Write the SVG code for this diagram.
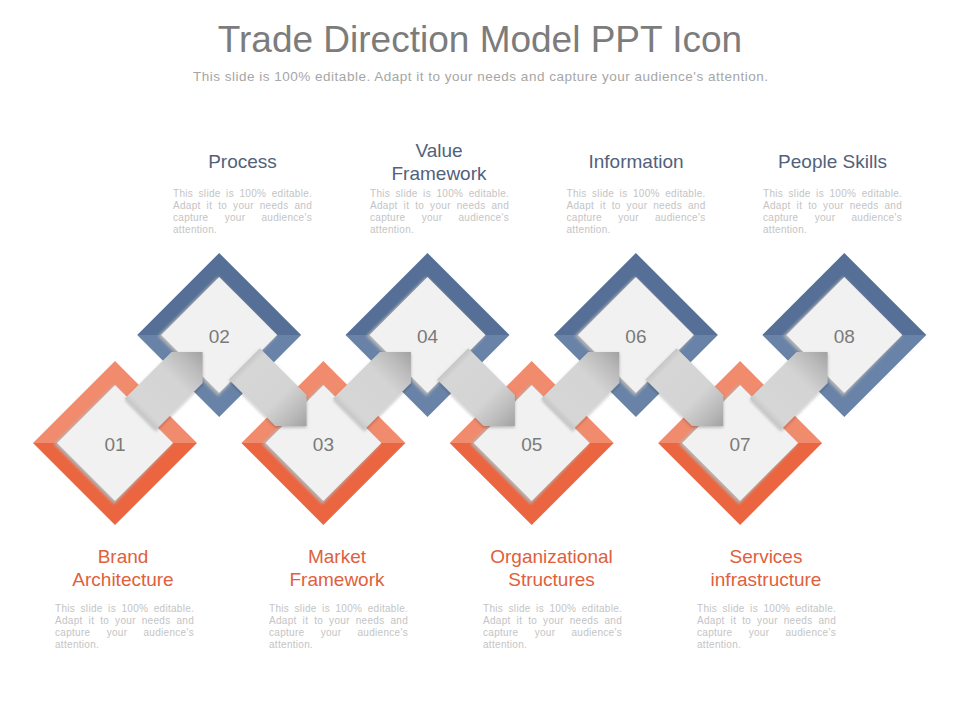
<svg xmlns="http://www.w3.org/2000/svg" xmlns:xlink="http://www.w3.org/1999/xlink" width="960" height="720" viewBox="0 0 960 720">
<defs>
<style>
.ot{fill:#F18B6D}.ob{fill:#EA6540}.bt{fill:#566F96}.bb{fill:#6983A8}
.in{fill:#F1F1F1}.sh{fill:#B5B5B5;filter:url(#blur)}
.num{font-family:"Liberation Sans",Arial,sans-serif;font-size:19px;fill:#7A7A7A;text-anchor:middle}
.title{font-family:"Liberation Sans",Arial,sans-serif;font-size:37px;fill:#7C7C7C;text-anchor:middle}
.sub{font-family:"Liberation Sans",Arial,sans-serif;font-size:13.5px;fill:#A6A6A6}
.lt{font-family:"Liberation Sans",Arial,sans-serif;font-size:19px;fill:#52617C;text-anchor:middle}
.lb{font-family:"Liberation Sans",Arial,sans-serif;font-size:19px;fill:#E0603C;text-anchor:middle}
.body{font-family:"Liberation Sans",Arial,sans-serif;font-size:10px;fill:#C4C4C4;letter-spacing:0.3px}
.l1{word-spacing:2.4px}.l2{word-spacing:2.9px}.l3{word-spacing:13.1px}
</style>
<filter id="blur" x="-20%" y="-20%" width="140%" height="140%"><feGaussianBlur stdDeviation="1.6"/></filter>
<filter id="ash" x="-20%" y="-20%" width="140%" height="140%"><feDropShadow dx="0" dy="1.5" stdDeviation="1.5" flood-color="#000" flood-opacity="0.25"/></filter>
<linearGradient id="ag" x1="0" y1="0" x2="1" y2="0">
<stop offset="0" stop-color="#C6C6C6"/>
<stop offset="0.08" stop-color="#D6D6D6"/>
<stop offset="0.55" stop-color="#D4D4D4"/>
<stop offset="0.8" stop-color="#BBBBBB"/>
<stop offset="1" stop-color="#A2A2A2"/>
</linearGradient>
<path id="arr" d="M-44,-22 L22,-22 L44,0 L22,22 L-44,22 Z" fill="url(#ag)"/>
<g id="inner">
<polygon class="sh" points="-61,1 -1,-58 57,1 -1,61"/>
<polygon class="in" points="-58,0 0,-58 58,0 0,58"/>
</g>
</defs>
<rect width="960" height="720" fill="#FFFFFF"/>
<text class="title" x="480" y="52">Trade Direction Model PPT Icon</text>
<text class="sub" x="193" y="81" textLength="575" lengthAdjust="spacing">This slide is 100% editable. Adapt it to your needs and capture your audience's attention.</text>

<g id="n01" transform="translate(115,443)">
<polygon class="ot" points="-82,0 0,-82 82,0"/><polygon class="ob" points="-82,0 0,82 82,0"/>
<use xlink:href="#inner"/><text class="num" y="8">01</text></g>
<g id="n02" transform="translate(219.2,335)">
<polygon class="bt" points="-82,0 0,-82 82,0"/><polygon class="bb" points="-82,0 0,82 82,0"/>
<use xlink:href="#inner"/><text class="num" y="8">02</text></g>
<g id="n03" transform="translate(323.4,443)">
<polygon class="ot" points="-82,0 0,-82 82,0"/><polygon class="ob" points="-82,0 0,82 82,0"/>
<use xlink:href="#inner"/><text class="num" y="8">03</text></g>
<g id="n04" transform="translate(427.5,335)">
<polygon class="bt" points="-82,0 0,-82 82,0"/><polygon class="bb" points="-82,0 0,82 82,0"/>
<use xlink:href="#inner"/><text class="num" y="8">04</text></g>
<g id="n05" transform="translate(531.7,443)">
<polygon class="ot" points="-82,0 0,-82 82,0"/><polygon class="ob" points="-82,0 0,82 82,0"/>
<use xlink:href="#inner"/><text class="num" y="8">05</text></g>
<g id="n06" transform="translate(635.9,335)">
<polygon class="bt" points="-82,0 0,-82 82,0"/><polygon class="bb" points="-82,0 0,82 82,0"/>
<use xlink:href="#inner"/><text class="num" y="8">06</text></g>
<g id="n07" transform="translate(740.1,443)">
<polygon class="ot" points="-82,0 0,-82 82,0"/><polygon class="ob" points="-82,0 0,82 82,0"/>
<use xlink:href="#inner"/><text class="num" y="8">07</text></g>
<g id="n08" transform="translate(844.3,335)">
<polygon class="bt" points="-82,0 0,-82 82,0"/><polygon class="bb" points="-82,0 0,82 82,0"/>
<use xlink:href="#inner"/><text class="num" y="8">08</text></g>

<g id="connectors" filter="url(#ash)">
<use xlink:href="#arr" transform="translate(171.5,383) rotate(-45)"/>
<use xlink:href="#arr" transform="translate(275.5,395) rotate(45)"/>
<use xlink:href="#arr" transform="translate(379.8,383) rotate(-45)"/>
<use xlink:href="#arr" transform="translate(483.8,395) rotate(45)"/>
<use xlink:href="#arr" transform="translate(588.2,383) rotate(-45)"/>
<use xlink:href="#arr" transform="translate(692.2,395) rotate(45)"/>
<use xlink:href="#arr" transform="translate(796.5,383) rotate(-45)"/>
</g>

<g id="top-labels">
<text class="lt" x="242.5" y="168">Process</text>
<text class="lt" x="439" y="157">Value</text>
<text class="lt" x="439" y="180">Framework</text>
<text class="lt" x="636" y="168">Information</text>
<text class="lt" x="832.5" y="168">People Skills</text>
</g>
<g id="top-body">
<text class="body l1" x="173" y="197">This slide is 100% editable.</text>
<text class="body l2" x="173" y="209">Adapt it to your needs and</text>
<text class="body l3" x="173" y="221">capture your audience's</text>
<text class="body" x="173" y="233">attention.</text>
<text class="body l1" x="370" y="197">This slide is 100% editable.</text>
<text class="body l2" x="370" y="209">Adapt it to your needs and</text>
<text class="body l3" x="370" y="221">capture your audience's</text>
<text class="body" x="370" y="233">attention.</text>
<text class="body l1" x="566.5" y="197">This slide is 100% editable.</text>
<text class="body l2" x="566.5" y="209">Adapt it to your needs and</text>
<text class="body l3" x="566.5" y="221">capture your audience's</text>
<text class="body" x="566.5" y="233">attention.</text>
<text class="body l1" x="763" y="197">This slide is 100% editable.</text>
<text class="body l2" x="763" y="209">Adapt it to your needs and</text>
<text class="body l3" x="763" y="221">capture your audience's</text>
<text class="body" x="763" y="233">attention.</text>
</g>
<g id="bottom-labels">
<text class="lb" x="123" y="563">Brand</text>
<text class="lb" x="123" y="586">Architecture</text>
<text class="lb" x="337" y="563">Market</text>
<text class="lb" x="337" y="586">Framework</text>
<text class="lb" x="551.5" y="563">Organizational</text>
<text class="lb" x="551.5" y="586">Structures</text>
<text class="lb" x="766" y="563">Services</text>
<text class="lb" x="766" y="586">infrastructure</text>
</g>
<g id="bottom-body">
<text class="body l1" x="55" y="612">This slide is 100% editable.</text>
<text class="body l2" x="55" y="624">Adapt it to your needs and</text>
<text class="body l3" x="55" y="636">capture your audience's</text>
<text class="body" x="55" y="648">attention.</text>
<text class="body l1" x="269" y="612">This slide is 100% editable.</text>
<text class="body l2" x="269" y="624">Adapt it to your needs and</text>
<text class="body l3" x="269" y="636">capture your audience's</text>
<text class="body" x="269" y="648">attention.</text>
<text class="body l1" x="483" y="612">This slide is 100% editable.</text>
<text class="body l2" x="483" y="624">Adapt it to your needs and</text>
<text class="body l3" x="483" y="636">capture your audience's</text>
<text class="body" x="483" y="648">attention.</text>
<text class="body l1" x="697" y="612">This slide is 100% editable.</text>
<text class="body l2" x="697" y="624">Adapt it to your needs and</text>
<text class="body l3" x="697" y="636">capture your audience's</text>
<text class="body" x="697" y="648">attention.</text>
</g>
</svg>
